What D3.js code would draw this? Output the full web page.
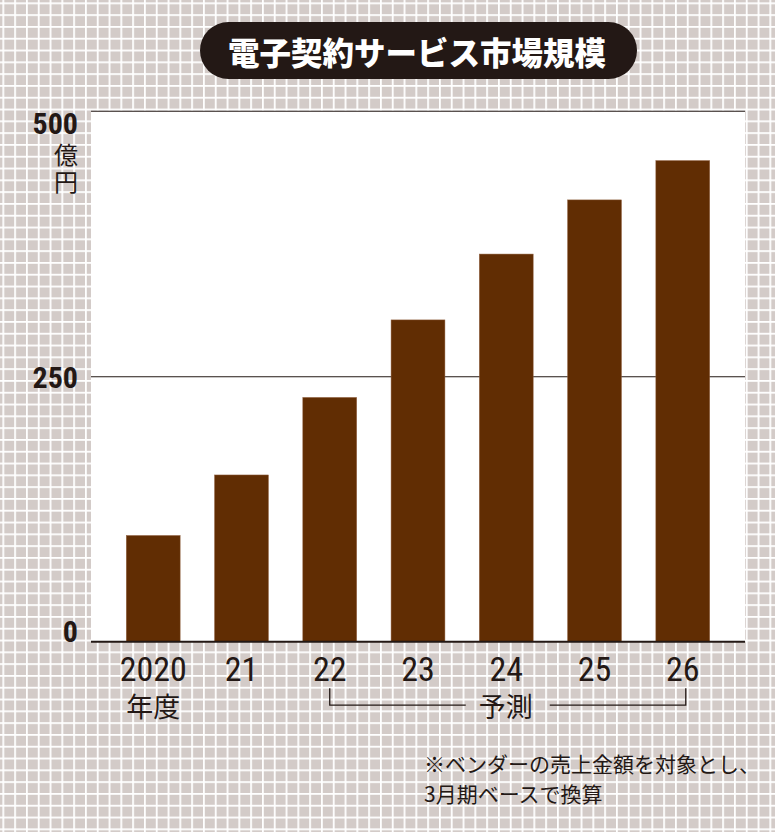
<!DOCTYPE html>
<html><head><meta charset="utf-8">
<script src="https://cdn.jsdelivr.net/npm/d3@7/dist/d3.min.js"></script>
<style>
html,body{margin:0;padding:0;background:#d3cbc8;}
svg{display:block;}
</style></head>
<body>
<svg id="c" width="775" height="832"></svg>
<script>
const title = "電子契約サービス市場規模";
const years = ["2020","21","22","23","24","25","26"];
const values = [100,157,230,303,365,416,453];
const yTicks = [0,250,500];
const yUnit = "億円";
const xSubLabel = "年度";
const forecastLabel = "予測";
const forecastRange = ["22","26"];
const notes = ["※ベンダーの売上金額を対象とし、","3月期ベースで換算"];

const W = 775, H = 832;
const svg = d3.select("#c");
const ink = "#231815";
const narrow = "'Liberation Sans Narrow','Roboto Condensed','DejaVu Sans Condensed',sans-serif";
const jp = "'Noto Sans CJK JP','Noto Sans CJK SC',sans-serif";

// background grid pattern
const defs = svg.append("defs");
const p = 11.8;
const pat = defs.append("pattern").attr("id","grid").attr("patternUnits","userSpaceOnUse")
  .attr("width",p).attr("height",p).attr("x",3.3-0.9).attr("y",3.3-0.9);
pat.append("rect").attr("width",p).attr("height",p).attr("fill","#d3cbc8");
pat.append("rect").attr("x",0).attr("y",0).attr("width",1.8).attr("height",p).attr("fill","#fff");
pat.append("rect").attr("x",0).attr("y",0).attr("width",p).attr("height",1.8).attr("fill","#fff");
svg.append("rect").attr("width",W).attr("height",H).attr("fill","url(#grid)");

// scales
const x = d3.scaleBand().domain(years).range([91,745]).paddingInner(0.39).paddingOuter(0.4);
const y = d3.scaleLinear().domain([0,500]).range([641.7,110.7]);

// plot area
svg.append("rect").attr("x",91).attr("y",y(500)).attr("width",745-91).attr("height",y(0)-y(500)).attr("fill","#fff");

// gridlines
const gAxis = svg.append("g").attr("transform","translate(91,0)")
  .call(d3.axisRight(y).tickValues(yTicks.filter(d=>d>0)).tickSize(745-91).tickFormat(""));
gAxis.select(".domain").remove();
gAxis.selectAll(".tick line").attr("stroke",ink).attr("stroke-width",1.1);

// bars
svg.append("g").selectAll("rect").data(values).join("rect")
  .attr("x",(d,i)=>x(years[i])).attr("width",x.bandwidth())
  .attr("y",d=>y(d)).attr("height",d=>y(0)-y(d))
  .attr("fill","#612d03").attr("stroke","#8f5f3f").attr("stroke-width",0.5);

// baseline
svg.append("line").attr("x1",91).attr("x2",745).attr("y1",y(0)).attr("y2",y(0))
  .attr("stroke",ink).attr("stroke-width",2);

// y tick labels
svg.append("g").selectAll("text").data(yTicks).join("text")
  .attr("x",78).attr("y",d=>y(d)+23*(d/500)).attr("text-anchor","end")
  .attr("font-family",narrow).attr("font-weight","bold").attr("font-size",30).attr("fill",ink)
  .text(d=>d);

// unit vertical
svg.append("text").attr("x",66).attr("y",y(500)+32)
  .attr("writing-mode","vertical-rl").attr("text-anchor","start")
  .attr("letter-spacing",3)
  .attr("font-family",jp).attr("font-size",24).attr("fill",ink).text(yUnit);

// x labels
svg.append("g").selectAll("text").data(years).join("text")
  .attr("x",d=>x(d)+x.bandwidth()/2).attr("y",y(0)+39.5).attr("text-anchor","middle")
  .attr("font-family",narrow).attr("font-size",34).attr("fill",ink).text(d=>d);

svg.append("text").attr("x",x(years[0])+x.bandwidth()/2).attr("y",y(0)+63.5)
  .attr("text-anchor","middle").attr("dominant-baseline","central")
  .attr("font-family",jp).attr("font-size",27).attr("fill",ink).text(xSubLabel);

// forecast bracket
const fx1 = x(forecastRange[0])+x.bandwidth()/2;
const fx2 = x(forecastRange[1])+x.bandwidth()/2+3;
const fmid = (fx1+fx2)/2;
const by0 = y(0)+46.5, by1 = y(0)+63.5;
svg.append("path").attr("d",`M${fx1},${by0}V${by1}H${fmid-42}M${fmid+42},${by1}H${fx2}V${by0}`)
  .attr("fill","none").attr("stroke",ink).attr("stroke-width",1.3);
svg.append("text").attr("x",fmid-2).attr("y",by1).attr("text-anchor","middle")
  .attr("dominant-baseline","central")
  .attr("font-family",jp).attr("font-size",27).attr("fill",ink).text(forecastLabel);

// notes
svg.append("g").selectAll("text").data(notes).join("text")
  .attr("x",424).attr("y",(d,i)=>763+i*29.5).attr("dominant-baseline","central")
  .attr("font-family",jp).attr("font-size",21).attr("fill",ink).text(d=>d);

// title pill
svg.append("rect").attr("x",200).attr("y",22).attr("width",437).attr("height",57).attr("rx",28.5)
  .attr("fill",ink);
svg.append("text").attr("x",417).attr("y",51).attr("text-anchor","middle")
  .attr("dominant-baseline","central")
  .attr("font-family",jp).attr("font-weight",900).attr("font-size",31.5).attr("fill","#fff").text(title);
</script>
</body></html>
